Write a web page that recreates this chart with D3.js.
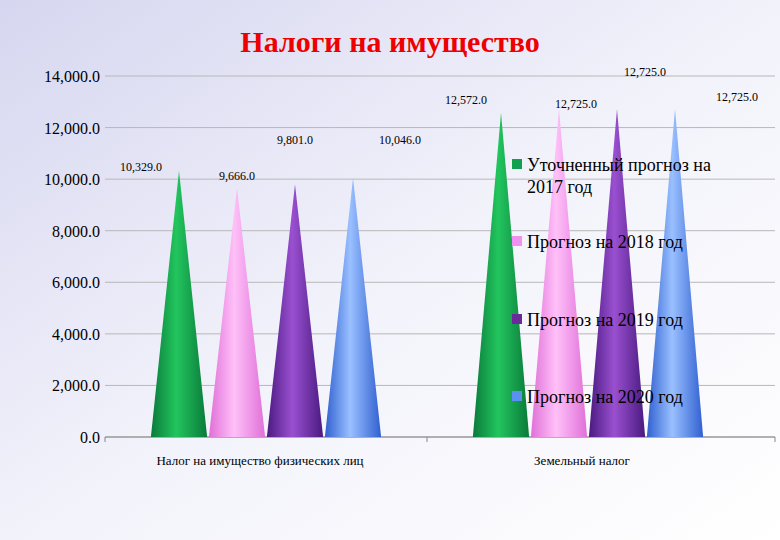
<!DOCTYPE html>
<html><head><meta charset="utf-8">
<script src="https://cdn.jsdelivr.net/npm/d3@7"></script>
<style>body{margin:0}svg{display:block}</style></head>
<body><svg id="c" width="780" height="540"></svg>
<script>
const categories = ["Налог на имущество физических лиц", "Земельный налог"];
const seriesNames = ["Уточненный прогноз на 2017 год", "Прогноз на 2018 год", "Прогноз на 2019 год", "Прогноз на 2020 год"];
const v2017 = [10329, 12572];
const v2018 = [9666, 12725];
const v2019 = [9801, 12725];
const v2020 = [10046, 12725];
const yTicks = [0, 2000, 4000, 6000, 8000, 10000, 12000, 14000];
const colors = [["#0a7a3a","#22c55e","#0d8a40"],["#e070d8","#ffc0f8","#e88ae0"],["#4a1a80","#9a50d0","#5a2090"],["#3060d0","#9ac0ff","#4a80e8"]];
const legendColors = ["#10a050","#f090f0","#6a2a9a","#5a90f0"];
const series = [v2017, v2018, v2019, v2020];
const FONT = "'Liberation Serif','Times New Roman',serif";

const svg = d3.select("#c");
const defs = svg.append("defs");
const bg = defs.append("linearGradient").attr("id","bg").attr("x1",0).attr("y1",0).attr("x2",1).attr("y2",1);
bg.append("stop").attr("offset",0).attr("stop-color","#d6d6f0");
bg.append("stop").attr("offset",0.5).attr("stop-color","#f2f2fb");
bg.append("stop").attr("offset",1).attr("stop-color","#ffffff");
svg.append("rect").attr("width",780).attr("height",540).attr("fill","url(#bg)");
colors.forEach((c,i)=>{
  const g = defs.append("linearGradient").attr("id","g"+i).attr("x1",0).attr("x2",1);
  g.append("stop").attr("offset",0).attr("stop-color",c[0]);
  g.append("stop").attr("offset",0.45).attr("stop-color",c[1]);
  g.append("stop").attr("offset",1).attr("stop-color",c[0]);
});

const L=105,R=775,T=76,B=437;
const y = d3.scaleLinear().domain([0,14000]).range([B,T]);
const x0 = d3.scaleBand().domain(categories).range([L,L+644]).padding(0);
const x1 = d3.scaleBand().domain(d3.range(4)).range([45,277]).padding(0);

svg.append("text").attr("x",390).attr("y",52).attr("text-anchor","middle")
  .attr("font-family",FONT).attr("font-weight","bold").attr("font-size",30).attr("fill","#ee0000").text("Налоги на имущество");

yTicks.forEach(t=>{
  svg.append("line").attr("x1",L).attr("x2",R).attr("y1",y(t)).attr("y2",y(t)).attr("stroke","#b8b8b8");
  svg.append("text").attr("x",100).attr("y",y(t)+6).attr("text-anchor","end")
    .attr("font-family",FONT).attr("font-size",16).text(d3.format(",.1f")(t));
});
svg.append("line").attr("x1",L).attr("x2",R).attr("y1",B).attr("y2",B).attr("stroke","#888");
[L, x0(categories[1]), R].forEach(xx=>svg.append("line").attr("x1",xx).attr("x2",xx).attr("y1",B).attr("y2",B+5).attr("stroke","#888"));

const labOff = [[[-38,0],[-35,-9]],[[0,-8],[17,-1]],[[0,-40],[28,-33]],[[47,-34],[62,-8]]];
series.forEach((vals,si)=>{
  vals.forEach((v,ci)=>{
    const cx = x0(categories[ci]) + x1(si) + x1.bandwidth()/2;
    const w = x1.bandwidth()*0.97;
    svg.append("path").attr("d",`M${cx-w/2},${y(0)}L${cx},${y(v)}L${cx+w/2},${y(0)}Z`).attr("fill",`url(#g${si})`);
    svg.append("text").attr("x",cx+labOff[si][ci][0]).attr("y",y(v)+labOff[si][ci][1])
      .attr("text-anchor","middle").attr("font-family",FONT).attr("font-size",12).text(d3.format(",.1f")(v));
  });
});
categories.forEach((c,ci)=>{
  svg.append("text").attr("x",x0(c)+x0.bandwidth()/2 - 6).attr("y",465).attr("text-anchor","middle")
    .attr("font-family",FONT).attr("font-size",13).text(c);
});
const ly=[165,242,320,397];
seriesNames.forEach((n,i)=>{
  svg.append("rect").attr("x",512).attr("y",ly[i]-6).attr("width",10).attr("height",10).attr("fill",legendColors[i]);
  const t = svg.append("text").attr("x",527).attr("y",ly[i]+6).attr("font-family",FONT).attr("font-size",18);
  if(i===0){ t.append("tspan").text("Уточненный прогноз на"); t.append("tspan").attr("x",527).attr("dy",22).text("2017 год"); }
  else t.text(n);
});
</script></body></html>
